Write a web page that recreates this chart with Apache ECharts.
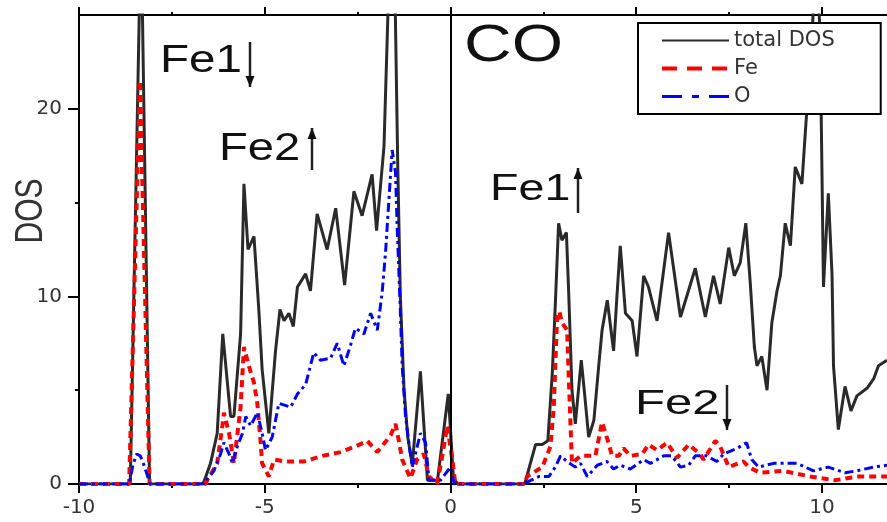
<!DOCTYPE html>
<html>
<head>
<meta charset="utf-8">
<script src="https://cdn.jsdelivr.net/npm/echarts@6/dist/echarts.min.js"></script>
<style>
  html, body { margin: 0; padding: 0; background: #fff; }
  #chart { width: 887px; height: 522px; }
</style>
</head>
<body>
<div id="chart"></div>
<script>
// tick labels
const xTicks = [-10, -5, 0, 5, 10];
const xMinor = [-7.5, -2.5, 2.5, 7.5];
const yTicks = [0, 10, 20];
const yMinor = [5, 15];

// total DOS (energy, DOS)
const totalX = [-10, -8.7, -8.62, -8.33, -8.1, -6.7, -6.64, -6.46, -6.28, -6.13, -5.92, -5.83, -5.65, -5.56,
  -5.45, -5.29, -5.16, -5.07, -4.89, -4.71, -4.59, -4.48, -4.35, -4.23, -4.12, -3.9, -3.77, -3.59, -3.32,
  -3.09, -2.85, -2.6, -2.38, -2.11, -1.99, -1.79, -1.67, -1.6, -1.5, -1.42, -1.35, -1.25, -1.15, -1.03,
  -0.81, -0.62, -0.35, -0.06, 0.08, 0.2, 2.0, 2.15, 2.29, 2.47, 2.62, 2.74, 2.82, 2.91, 3.0, 3.12, 3.18,
  3.27, 3.36, 3.52, 3.6, 3.72, 3.86, 3.99, 4.08, 4.22, 4.39, 4.48, 4.57, 4.71, 4.89, 5.02, 5.2, 5.33, 5.56,
  5.87, 6.19, 6.59, 6.86, 7.08, 7.26, 7.49, 7.64, 7.8, 7.95, 8.07, 8.18, 8.25, 8.38, 8.52, 8.65, 8.79, 8.88,
  9.01, 9.15, 9.28, 9.46, 9.55, 9.7, 9.85, 9.95, 10.04, 10.17, 10.27, 10.31, 10.44, 10.62, 10.78, 10.94,
  11.21, 11.39, 11.52, 11.75];
const totalY = [0, 0, 0, 30, 0, 0, 0.1, 1.1, 2.7, 8.0, 3.6, 3.6, 8.0, 16.0,
  12.5, 13.2, 9.3, 6.1, 2.7, 7.1, 9.3, 8.7, 9.1, 8.4, 10.5, 11.2, 10.3, 14.4, 12.5,
  14.7, 10.6, 15.6, 14.3, 16.5, 13.5, 18.0, 26, 29, 27, 17, 10, 5, 2.5, 1.0,
  6.0, 0.2, 0.2, 4.8, 0.3, 0, 0, 1.1, 2.1, 2.1, 2.3, 5.9, 9.5, 13.9, 13.0, 13.4, 10.3,
  5.0, 3.2, 6.6, 5.0, 2.5, 3.4, 6.3, 8.2, 9.8, 7.1, 10.0, 12.7, 9.1, 8.7, 6.8, 11.1, 10.5, 8.7,
  13.4, 8.9, 11.5, 8.9, 11.1, 9.6, 12.6, 11.1, 11.8, 13.9, 10.7, 7.3, 6.3, 6.8, 5.0, 8.6, 10.3, 11.1,
  13.9, 12.7, 16.9, 16.0, 18.7, 23, 28, 24, 10.5, 15.5, 11.2, 6.3, 2.9, 5.2, 3.9, 4.7,
  5.1, 5.6, 6.3, 6.6];

// Fe projected DOS
const feX = [-10, -8.65, -8.36, -8.1, -6.6, -6.55, -6.28, -6.14, -6.1, -5.96, -5.83, -5.65, -5.56, -5.43,
  -5.29, -5.2, -5.11, -5.07, -4.89, -4.75, -4.44, -3.95, -3.45, -2.96, -2.56, -2.24, -1.97, -1.61, -1.48,
  -1.39, -1.3, -1.08, -0.9, -0.72, -0.58, -0.36, -0.22, -0.09, 0.05, 0.13, 2.0, 2.06, 2.47, 2.69, 2.78,
  2.87, 2.93, 3.0, 3.14, 3.18, 3.23, 3.27, 3.5, 3.9, 4.08, 4.22, 4.35, 4.53, 4.66, 4.84, 5.16, 5.33, 5.56,
  5.83, 6.1, 6.41, 6.72, 6.81, 7.13, 7.26, 7.49, 7.89, 8.03, 8.33, 8.96, 9.68, 10.35, 10.98, 11.75];
const feY = [0, 0, 21.5, 0, 0, 0.2, 1.1, 3.1, 3.8, 2.7, 1.1, 4.1, 7.3, 6.3,
  5.4, 4.3, 2.2, 1.1, 0.4, 1.3, 1.2, 1.2, 1.5, 1.7, 2.0, 2.3, 1.7, 2.6, 3.2,
  2.3, 1.3, 0.3, 1.3, 1.6, 0.4, 0, 1.5, 3.1, 1.3, 0, 0, 0.4, 0.9, 2.0, 4.1,
  8.9, 9.2, 8.6, 8.2, 5.9, 3.2, 1.1, 1.5, 1.5, 3.3, 2.4, 1.5, 1.5, 1.9, 1.5, 1.6, 2.1, 1.8,
  2.2, 1.4, 2.1, 1.6, 1.3, 2.3, 2.0, 0.9, 1.2, 0.9, 0.6, 0.7, 0.4, 0.2, 0.4, 0.4];

// O projected DOS
const oX = [-10, -8.65, -8.55, -8.45, -8.35, -8.25, -8.15, -8.08, -6.65, -6.6, -6.37, -6.19, -6.1, -5.96,
  -5.87, -5.74, -5.6, -5.51, -5.38, -5.2, -5.07, -4.98, -4.8, -4.62, -4.3, -4.12, -3.9, -3.68, -3.5, -3.23,
  -3.05, -2.87, -2.69, -2.56, -2.33, -2.15, -1.97, -1.84, -1.75, -1.66, -1.57, -1.48, -1.43, -1.36, -1.3,
  -1.21, -1.12, -1.03, -0.81, -0.67, -0.58, -0.27, 0.0, 0.1, 2.0, 2.06, 2.38, 2.65, 2.82, 2.96, 3.14, 3.36,
  3.5, 3.68, 3.95, 4.21, 4.39, 4.57, 4.84, 5.2, 5.38, 5.74, 5.96, 6.19, 6.41, 6.59, 6.9, 7.17, 7.35, 7.71,
  7.97, 8.11, 8.29, 8.7, 9.33, 9.77, 10.17, 10.62, 10.93, 11.38, 11.75];
const oY = [0, 0, 1.0, 1.6, 1.5, 1.0, 0.4, 0, 0, 0.1, 0.7, 1.6, 2.2, 1.6,
  1.1, 2.0, 2.7, 3.6, 3.1, 3.8, 2.7, 1.8, 2.5, 4.3, 4.1, 4.8, 5.3, 7.0, 6.6, 6.7,
  7.5, 6.3, 7.4, 8.3, 8.0, 9.1, 8.2, 10.2, 12.3, 15.1, 17.8, 16.6, 13.4, 9.8, 6.3,
  3.6, 2.2, 0.9, 2.7, 2.2, 0.2, 0.2, 0.9, 0, 0, 0.1, 0.4, 0.4, 0.9, 1.5, 1.2, 0.9,
  1.1, 0.4, 1.0, 1.2, 0.8, 1.0, 0.8, 1.3, 1.1, 1.5, 1.5, 0.9, 1.0, 1.5, 1.5, 1.2, 1.6, 1.9,
  2.2, 1.3, 0.9, 1.1, 1.1, 0.7, 0.9, 0.6, 0.7, 0.9, 1.0];

const pairs = (xs, ys) => xs.map((x, i) => [x, ys[i]]);

const FONT = '"Liberation Sans", Arial, sans-serif';
const X_MIN = -10, X_MAX = 11.75, Y_MIN = 0, Y_MAX = 25;

function xAxisCfg(position, ticks, tickLen, showLine, showLabel) {
  return {
    type: 'value', position: position, min: X_MIN, max: X_MAX,
    axisLine: { show: showLine, onZero: false, lineStyle: { color: '#000', width: 2 } },
    axisTick: { show: true, inside: false, length: tickLen, customValues: ticks,
      lineStyle: { color: '#000', width: 2 } },
    axisLabel: { show: showLabel, customValues: ticks, margin: 14,
      fontFamily: 'DejaVu Sans', fontSize: 20, color: '#333' },
    splitLine: { show: false }
  };
}

function yAxisCfg(ticks, tickLen, showLine, showLabel) {
  return {
    type: 'value', position: 'left', min: Y_MIN, max: Y_MAX,
    axisLine: { show: showLine, onZero: false, lineStyle: { color: '#000', width: 2 } },
    axisTick: { show: true, inside: false, length: tickLen, customValues: ticks,
      lineStyle: { color: '#000', width: 2 } },
    axisLabel: { show: showLabel, customValues: ticks, margin: 17,
      fontFamily: 'DejaVu Sans', fontSize: 20, color: '#333' },
    splitLine: { show: false }
  };
}

// vertical arrow next to a label
function arrow(x, yTop, yBot, up) {
  const tipY = up ? yTop : yBot;
  const baseY = up ? yTop + 11 : yBot - 11;
  return {
    type: 'group',
    children: [
      { type: 'line', shape: { x1: x, y1: yTop, x2: x, y2: yBot },
        style: { stroke: '#222', lineWidth: 2.5 } },
      { type: 'polygon', shape: { points: [[x, tipY], [x - 4.5, baseY], [x + 4.5, baseY]] },
        style: { fill: '#111' } }
    ]
  };
}

function label(text, x, y, size, sx) {
  return {
    type: 'text', x: x, y: y, scaleX: sx,
    style: { text: text, font: size + 'px ' + FONT, fill: '#111', align: 'left', verticalAlign: 'middle' }
  };
}

const chart = echarts.init(document.getElementById('chart'), null, { renderer: 'canvas' });

const option = {
  animation: false,
  backgroundColor: '#fff',
  grid: { left: 79, right: 0, top: 15, bottom: 38, containLabel: false },
  legend: {
    orient: 'vertical', left: 638, top: 23,
    itemWidth: 67, itemHeight: 14, itemGap: 7,
    padding: [7, 46, 7, 22],
    borderColor: '#000', borderWidth: 2, backgroundColor: '#fff',
    itemStyle: { opacity: 0 },
    textStyle: { fontFamily: 'DejaVu Sans', fontSize: 21, color: '#333' },
    data: [
      { name: 'total DOS', lineStyle: { width: 2 } },
      { name: 'Fe', lineStyle: { width: 4, type: [15, 10] } },
      { name: 'O', lineStyle: { width: 3, type: [20, 10, 7, 10] } }
    ]
  },
  xAxis: [
    xAxisCfg('bottom', xTicks, 9, true, true),
    xAxisCfg('bottom', xMinor, 4, false, false),
    xAxisCfg('top', xTicks, 8, true, false),
    xAxisCfg('top', xMinor, 3, false, false)
  ],
  yAxis: [
    yAxisCfg(yTicks, 11, true, true),
    yAxisCfg(yMinor, 4, false, false)
  ],
  series: [
    {
      name: 'total DOS', type: 'line', data: pairs(totalX, totalY),
      symbol: 'none', z: 2,
      lineStyle: { color: '#2a2a2a', width: 3 },
      itemStyle: { color: '#2a2a2a' },
      markLine: {
        silent: true, symbol: 'none', label: { show: false },
        lineStyle: { color: '#000', width: 2, type: 'solid' },
        data: [{ xAxis: 0 }]
      }
    },
    {
      name: 'Fe', type: 'line', data: pairs(feX, feY),
      symbol: 'none', z: 3,
      lineStyle: { color: '#ff0000', width: 4, type: [7, 5] },
      itemStyle: { color: '#ff0000' }
    },
    {
      name: 'O', type: 'line', data: pairs(oX, oY),
      symbol: 'none', z: 4,
      lineStyle: { color: '#0000ff', width: 3, type: [9, 4, 3, 4] },
      itemStyle: { color: '#0000ff' }
    }
  ],
  graphic: [
    {
      type: 'text', x: 31, y: 211, rotation: Math.PI / 2, scaleY: 1.3,
      style: { text: 'DOS', font: '30px ' + FONT, fill: '#333', align: 'center', verticalAlign: 'middle' }
    },
    label('Fe1', 160, 61, 39, 1.22),
    arrow(250, 42, 87, false),
    label('Fe2', 219, 149, 39, 1.21),
    arrow(312, 128, 170, true),
    label('CO', 464, 47, 52, 1.27),
    label('Fe1', 490, 190, 37, 1.26),
    arrow(578, 168, 213, true),
    label('Fe2', 635, 404, 35, 1.4),
    arrow(727, 385, 430, false)
  ]
};

chart.setOption(option);
</script>
</body>
</html>
